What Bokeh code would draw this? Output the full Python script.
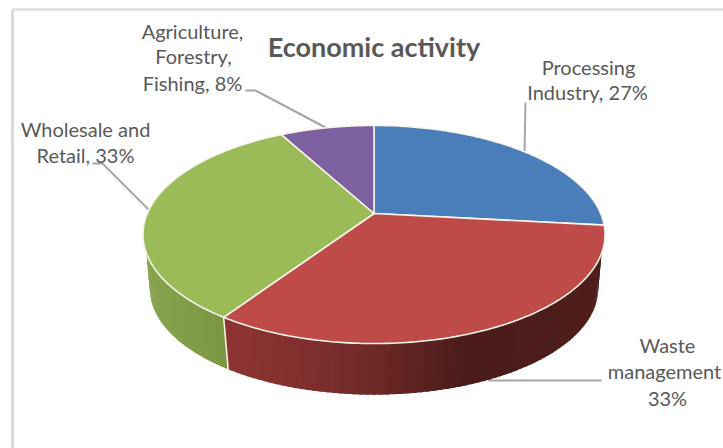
import numpy as np
from bokeh.plotting import figure
from bokeh.models import Range1d
from bokeh.core.properties import value
from bokeh.embed import file_html
from bokeh.resources import INLINE

# --- data ---
categories = ["Processing Industry", "Waste management", "Wholesale and Retail", "Agriculture, Forestry, Fishing"]
shares = [27, 33, 33, 8]
top_colors = ["#4A7EBB", "#BE4B48", "#9BBB59", "#7D60A0"]
title = "Economic activity"
label_lines = [
    ["Processing", "Industry, 27%"],
    ["Waste", "management", "33%"],
    ["Wholesale and", "Retail, 33%"],
    ["Agriculture,", "Forestry,", "Fishing, 8%"],
]

# --- layout (screen pixels of the page) ---
CX, APEX_Y, A, B, K = 373.5, 213.0, 226.7, 105.0, 0.1927
DEPTH_SCALE, DEPTH_Y = 0.97, 268.0
WALL_TOP = (np.radians(110.8), np.radians(249.2))   # where the wall emerges from under the top face
WALL_LOW = (np.radians(88.0), np.radians(272.0))
label_anchor = [
    [(588, 66), (587, 91)],
    [(667, 344), (664, 370), (667, 397)],
    [(85, 128), (85, 154)],
    [(192, 30), (193, 55), (192, 82)],
]
leaders = [
    ([525, 524], [102, 152]),
    ([488, 601], [380, 380]),
    ([92, 102, 148], [163, 163, 209]),
    ([245, 255, 325], [90, 90, 127]),
]
# side-shade stops along screen x
red_x = [228, 300, 360, 420, 470, 600]
red_r = [0x8E, 0x80, 0x72, 0x5A, 0x4A, 0x50]
red_g = [0x35, 0x30, 0x2B, 0x22, 0x1C, 0x1F]
red_b = [0x33, 0x2E, 0x2A, 0x20, 0x1A, 0x1C]
green_x = [145, 228]
green_r = [0x88, 0x7A]
green_g = [0xA4, 0x96]
green_b = [0x4E, 0x42]


def project(theta):
    u, v = np.sin(theta), np.cos(theta)
    w = 1 + K * v
    return CX + A * u / w, APEX_Y - B * v / w


def project_low(theta):
    x, y = project(theta)
    return CX + DEPTH_SCALE * (x - CX), DEPTH_Y + DEPTH_SCALE * (y - APEX_Y)


def shade(x, color_idx):
    if color_idx == 1:
        xs, r, g, b = red_x, red_r, red_g, red_b
    else:
        xs, r, g, b = green_x, green_r, green_g, green_b
    return "#%02x%02x%02x" % (int(np.interp(x, xs, r)), int(np.interp(x, xs, g)), int(np.interp(x, xs, b)))


fractions = np.array(shares, dtype=float) / sum(shares)
edges = np.concatenate([[0], np.cumsum(fractions)]) * 2 * np.pi

p = figure(width=723, height=448, x_range=Range1d(0, 723), y_range=Range1d(448, 0),
           output_backend="svg", toolbar_location=None, min_border=0,
           background_fill_color="white", border_fill_color="white", outline_line_color=None)
p.axis.visible = False
p.grid.visible = False

# chart frame
p.line([12, 12], [448, 9], line_color="#D9D9D9", line_width=3)
p.line([12, 723], [9, 9], line_color="#DEDEDE", line_width=2.5)

# leader lines
for lx, ly in leaders:
    p.line(lx, ly, line_color="#A6A6A6", line_width=2)

# side wall, front half only (wedges 1 and 2 face the viewer)
for i in (1, 2):
    lo = WALL_LOW[0] if i == 1 else edges[i]
    hi = WALL_LOW[1] if i == 2 else edges[i + 1]
    ts = np.linspace(lo, hi, int((hi - lo) / 0.025) + 2)
    step = ts[1] - ts[0]
    xs_list, ys_list, cols = [], [], []
    for t0, t1 in zip(ts[:-1], ts[1:]):
        t1o = min(t1 + step * 0.6, hi)
        x0, y0 = project(np.clip(t0, *WALL_TOP))
        x1, y1 = project(np.clip(t1o, *WALL_TOP))
        x2, y2 = project_low(t1o)
        x3, y3 = project_low(t0)
        xs_list.append([x0, x1, x2, x3])
        ys_list.append([y0, y1, y2, y3])
        cols.append(shade((x0 + x1) / 2, i))
    p.patches(xs_list, ys_list, fill_color=cols, line_color=None)

# seam between wedges on the wall
t = edges[2]
sx0, sy0 = project(t)
sx1, sy1 = project_low(t)
p.line([sx0, sx1], [sy0, sy1], line_color="#F2F2E6", line_width=1.6)

# top faces
for i in range(len(shares)):
    ts = np.linspace(edges[i], edges[i + 1], 120)
    ax, ay = project(ts)
    p.patch(np.concatenate([[CX], ax]), np.concatenate([[APEX_Y], ay]),
            fill_color=top_colors[i], line_color="#F7F4EA", line_width=1.6, line_join="round")

# texts
for lines, anchors in zip(label_lines, label_anchor):
    for s, (x, y) in zip(lines, anchors):
        p.text([x], [y], text=[s], text_font=value("Lato"), text_font_size="20px",
               text_color="#595959", text_align="center", text_baseline="alphabetic")
p.text([373.5], [46], text=[title], text_font=value("Lato"), text_font_size="27px",
       text_font_style="bold", text_color="#595959", text_align="center", text_baseline="alphabetic")

open("out.html", "w").write(file_html(p, INLINE))
